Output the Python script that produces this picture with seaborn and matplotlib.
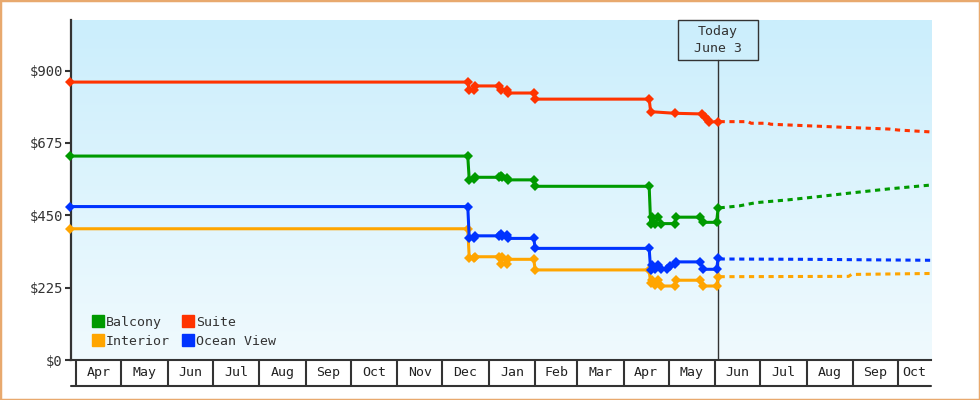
import numpy as np
import pandas as pd
import matplotlib
matplotlib.use("Agg")
import matplotlib.pyplot as plt
import matplotlib.dates as mdates
from matplotlib.patches import Rectangle
from matplotlib.lines import Line2D
from matplotlib.colors import LinearSegmentedColormap
import seaborn as sns

sns.set_theme(style="ticks")
plt.rcParams["font.family"] = ["DejaVu Sans Mono", "DejaVu Sans"]

# ---------------- data ----------------
series_names = ["Balcony", "Interior", "Suite", "Ocean View"]
series_colors = ["#009A00", "#FFA500", "#FF3300", "#0033FF"]

suite_dates = ["2018-03-28", "2018-12-18", "2018-12-19", "2018-12-22", "2018-12-23",
               "2019-01-08", "2019-01-09", "2019-01-13", "2019-01-14", "2019-01-31",
               "2019-02-01", "2019-04-18", "2019-04-19", "2019-05-05", "2019-05-23",
               "2019-05-25", "2019-05-27", "2019-05-28", "2019-06-03"]
suite_prices = [864, 864, 838, 838, 852,
                852, 838, 840, 830, 830,
                811, 811, 772, 767, 765,
                755, 745, 740, 741]

balcony_dates = ["2018-03-28", "2018-12-18", "2018-12-19", "2018-12-22", "2018-12-23",
                 "2019-01-08", "2019-01-09", "2019-01-10", "2019-01-13", "2019-01-14",
                 "2019-01-31", "2019-02-01", "2019-04-18", "2019-04-19", "2019-04-20",
                 "2019-04-22", "2019-04-24", "2019-04-26", "2019-05-05", "2019-05-06",
                 "2019-05-22", "2019-05-24", "2019-06-02", "2019-06-03"]
balcony_prices = [634, 634, 559, 562, 568,
                  568, 571, 568, 566, 560,
                  560, 540, 540, 424, 444,
                  424, 444, 424, 424, 444,
                  444, 428, 428, 473]

ocean_dates = ["2018-03-28", "2018-12-18", "2018-12-19", "2018-12-22", "2018-12-23",
               "2019-01-08", "2019-01-09", "2019-01-10", "2019-01-13", "2019-01-14",
               "2019-01-31", "2019-02-01", "2019-04-18", "2019-04-19", "2019-04-20",
               "2019-04-22", "2019-04-24", "2019-04-26", "2019-04-30", "2019-05-02",
               "2019-05-05", "2019-05-06", "2019-05-22", "2019-05-24", "2019-06-02",
               "2019-06-03"]
ocean_prices = [477, 477, 378, 380, 386,
                386, 392, 386, 390, 378,
                378, 347, 347, 280, 296,
                283, 296, 283, 283, 292,
                298, 305, 305, 282, 282,
                316]

interior_dates = ["2018-03-28", "2018-12-18", "2018-12-19", "2018-12-22", "2018-12-23",
                  "2019-01-08", "2019-01-09", "2019-01-10", "2019-01-13", "2019-01-14",
                  "2019-01-31", "2019-02-01", "2019-04-18", "2019-04-19", "2019-04-20",
                  "2019-04-22", "2019-04-24", "2019-04-26", "2019-05-05", "2019-05-06",
                  "2019-05-22", "2019-05-24", "2019-06-02", "2019-06-03"]
interior_prices = [408, 408, 316, 316, 321,
                   321, 298, 321, 298, 313,
                   313, 280, 280, 238, 248,
                   232, 248, 230, 230, 248,
                   248, 230, 230, 258]

# forecast (dashed)
suite_fc_dates = ["2019-06-04", "2019-06-23", "2019-06-25", "2019-07-06", "2019-07-08",
                  "2019-08-23", "2019-09-25", "2019-10-01", "2019-10-23"]
suite_fc_prices = [741, 741, 736, 736, 733, 724, 718, 715, 709]

balcony_fc_dates = ["2019-06-04", "2019-06-17", "2019-06-28", "2019-07-20", "2019-08-09",
                    "2019-08-30", "2019-09-25", "2019-10-23"]
balcony_fc_prices = [473, 479, 489, 498, 508, 519, 532, 544]

ocean_fc_dates = ["2019-06-04", "2019-08-01", "2019-10-23"]
ocean_fc_prices = [314, 313, 310]

interior_fc_dates = ["2019-06-04", "2019-08-29", "2019-08-31", "2019-10-23"]
interior_fc_prices = [259, 260, 266, 269]

month_labels = ["Apr", "May", "Jun", "Jul", "Aug", "Sep", "Oct", "Nov", "Dec",
                "Jan", "Feb", "Mar", "Apr", "May", "Jun", "Jul", "Aug", "Sep", "Oct"]
y_ticks = [0, 225, 450, 675, 900]
y_tick_labels = ["$0", "$225", "$450", "$675", "$900"]
today_label = "Today\nJune 3"
today_date = "2019-06-03"

# ---------------- figure ----------------
W, H = 980, 400
fig = plt.figure(figsize=(W / 100, H / 100), dpi=100)
ax_left, ax_right, ax_top, ax_bottom = 70.5, 931, 20, 360
ax_h_px = ax_bottom - ax_top
ax = fig.add_axes([ax_left / W, (H - ax_bottom) / H, (ax_right - ax_left) / W, ax_h_px / H])

xmin = pd.Timestamp("2018-03-28")
xmax = pd.Timestamp("2019-10-23")

# gradient background
cmap = LinearSegmentedColormap.from_list("bg", ["#CBEEFC", "#F0FAFE"])
ax.imshow(np.linspace(0, 1, 256).reshape(-1, 1), cmap=cmap, extent=[0, 1, 0, 1],
          transform=ax.transAxes, aspect="auto", zorder=0)

ink = "#333333"
today = pd.Timestamp(today_date)
box_h = 40 / ax_h_px
ax.axvline(today, ymin=0, ymax=1 - box_h, color=ink, lw=1.0, zorder=2)

hist = {
    "Balcony": (balcony_dates, balcony_prices),
    "Interior": (interior_dates, interior_prices),
    "Suite": (suite_dates, suite_prices),
    "Ocean View": (ocean_dates, ocean_prices),
}
fc = {
    "Balcony": (balcony_fc_dates, balcony_fc_prices),
    "Interior": (interior_fc_dates, interior_fc_prices),
    "Suite": (suite_fc_dates, suite_fc_prices),
    "Ocean View": (ocean_fc_dates, ocean_fc_prices),
}
draw_order = ["Interior", "Ocean View", "Balcony", "Suite"]
color_of = dict(zip(series_names, series_colors))

for name in draw_order:
    d, p = fc[name]
    sns.lineplot(x=pd.to_datetime(d), y=p, ax=ax, color=color_of[name], lw=2.2,
                 linestyle=(0, (1.7, 1.5)), estimator=None, sort=False, legend=False,
                 zorder=3)
for name in draw_order:
    d, p = hist[name]
    sns.lineplot(x=pd.to_datetime(d), y=p, ax=ax, color=color_of[name], lw=2.2,
                 marker="D", markersize=5.0, markeredgewidth=0, estimator=None,
                 sort=False, legend=False, zorder=4, clip_on=False)
    ax.lines[-1].set_markersize(5.0)

ax.set_xlim(xmin, xmax)
ax.set_ylim(0, 1057)

# today box
xn = mdates.date2num(today)
half_w = 40 / 1.5  # days
ax.add_patch(Rectangle((xn - half_w, 1 - box_h), 2 * half_w, box_h,
                       transform=ax.get_xaxis_transform(), fill=False, ec=ink, lw=1.0,
                       clip_on=False, zorder=5))
ax.text(today, 1 - box_h / 2, today_label, transform=ax.get_xaxis_transform(),
        ha="center", va="center", fontsize=9.5, linespacing=1.35, color=ink, zorder=6)

# x axis: month band
month_starts = pd.date_range("2018-04-01", "2019-10-01", freq="MS")
ax.set_xticks(mdates.date2num(month_starts))
ax.set_xticklabels([""] * len(month_starts))
mids = []
for s in month_starts:
    e = s + pd.offsets.MonthBegin(1)
    lo, hi = max(s, xmin), min(e, xmax)
    mids.append(mdates.date2num(lo + (hi - lo) / 2))
ax.set_xticks(mids, minor=True)
ax.set_xticklabels(month_labels, minor=True)
ax.tick_params(axis="x", which="major", length=26 * 0.72, width=1.5, color=ink,
               direction="out")
ax.tick_params(axis="x", which="minor", length=0, pad=4, labelsize=9.5, labelcolor="#222222")
band = 26 / ax_h_px
ax.add_line(Line2D([0, 1], [-band, -band], transform=ax.transAxes, color=ink, lw=1.5,
                   clip_on=False))

# y axis
ax.set_yticks(y_ticks)
ax.set_yticklabels(y_tick_labels)
ax.tick_params(axis="y", length=4, width=1.5, color=ink, pad=1.5, labelsize=10,
               labelcolor=ink)

for side in ["top", "right"]:
    ax.spines[side].set_visible(False)
ax.spines["left"].set_linewidth(1.6)
ax.spines["left"].set_color(ink)
ax.spines["bottom"].set_linewidth(1.5)
ax.spines["bottom"].set_color(ink)
ax.set_xlabel("")
ax.set_ylabel("")

# legend
handles = [Line2D([], [], marker="s", ls="", color=color_of[n], markersize=8) for n in series_names]
ax.legend(handles, series_names, ncol=2, loc="lower left",
          bbox_to_anchor=(0.024, 0.035), frameon=False, handletextpad=0.1,
          columnspacing=0.9, labelspacing=0.5, fontsize=9.5, handlelength=1.0,
          borderpad=0, borderaxespad=0, labelcolor=ink)

# figure border
fig.add_artist(Rectangle((0, 0), 1, 1, transform=fig.transFigure, fill=False,
                         ec="#E8A96E", lw=2.5))

fig.savefig("out.png", dpi=100)
